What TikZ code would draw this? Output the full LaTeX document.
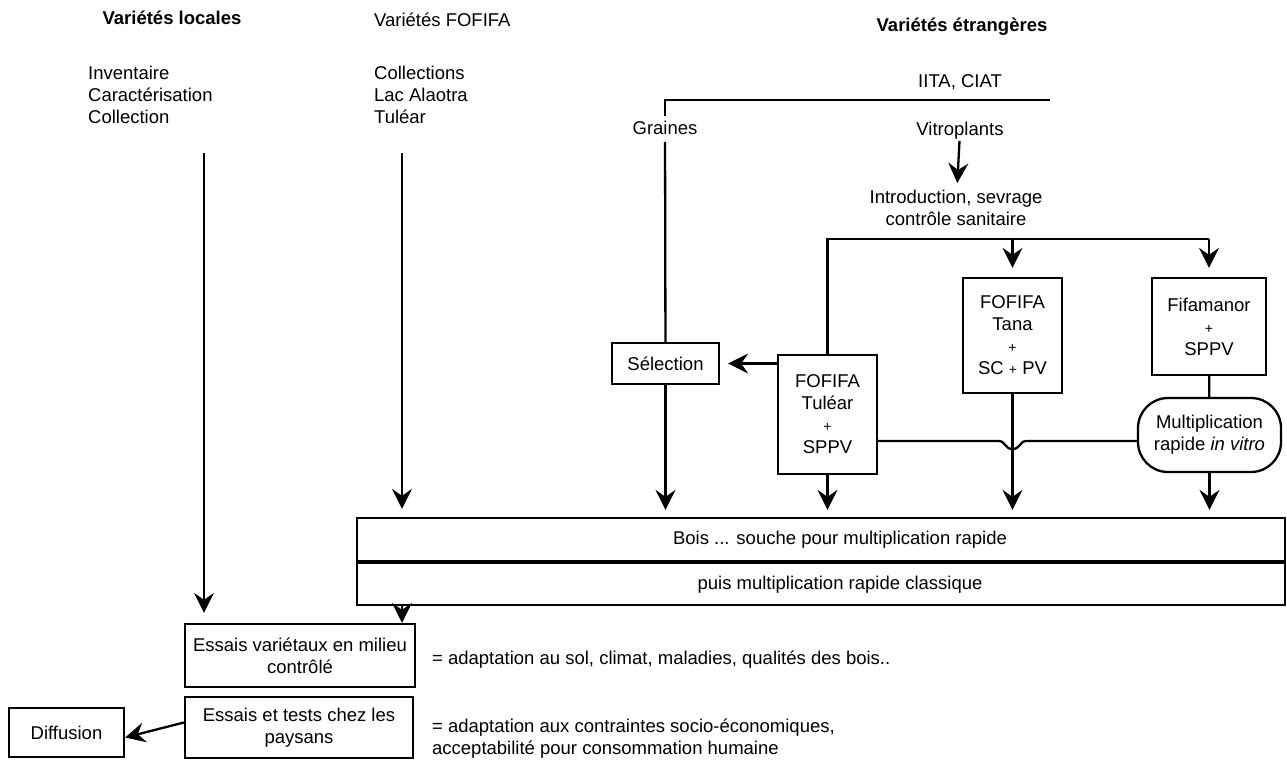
\documentclass[tikz,border=0pt]{standalone}
\usepackage{fontspec}
\setmainfont{Liberation Sans}
\usetikzlibrary{arrows.meta}
\tikzstyle{every node}=[inner sep=0pt, align=center]
\tikzstyle{box}=[draw, line width=2.3pt]
\tikzstyle{arr}=[-{Stealth[length=20pt, width=20pt, inset=7pt]}]
\newcommand{\pl}{{\fontsize{14}{14}\selectfont +}}

\begin{document}
\begin{tikzpicture}[x=1pt, y=-1pt, font=\fontsize{18.5}{22}\selectfont, line width=2.3pt]
	\useasboundingbox (0,0) rectangle (1287,764);
	%titles
	\node[font=\fontsize{18.5}{22}\selectfont\bfseries] (loctitle) at (172,18) {Variétés locales};
	\node[anchor=west] (foftitle) at (373,20) {Variétés FOFIFA};
	\node[font=\fontsize{18.5}{22}\selectfont\bfseries] (etrtitle) at (962,27) {Variétés étrangères};
	%lists
	\node[anchor=north west, align=left] (loclist) at (87,65) {Inventaire\\Caractérisation\\Collection};
	\node[anchor=north west, align=left] (foflist) at (373,65) {Collections\\Lac Alaotra\\Tuléar};
	\coordinate (locstart) at (204,153);
	\coordinate (fofstart) at (402,153);
	%foreign varieties
	\node (iita) at (960,82) {IITA, CIAT};
	\coordinate (iitaend) at (1050,100);
	\node (graines) at (665,128) {Graines};
	\node (vitro) at (960,131) {Vitroplants};
	\node (intro) at (956,208) {Introduction, sevrage\\contrôle sanitaire};
	%boxes
	\node[box, minimum width=107, minimum height=41] (selection) at (665.5,363.5) {Sélection};
	\node[box, minimum width=99, minimum height=119] (tulear) at (827.5,414.5) {FOFIFA\\Tuléar\\\pl\\SPPV};
	\node[box, minimum width=99, minimum height=115] (tana) at (1012.5,335.5) {FOFIFA\\Tana\\\pl\\SC \pl\ PV};
	\node[box, minimum width=114, minimum height=97] (fifa) at (1209,326.5) {Fifamanor\\\pl\\SPPV};
	\node[box, rounded corners=30pt, minimum width=143, minimum height=74] (multi) at (1209.5,435) {Multiplication\\rapide \textit{in vitro}};
	\node[box, minimum width=928, minimum height=43] (bois) at (821,539.5) {};
	\node[box, minimum width=928, minimum height=42, anchor=north] (puis) at (bois.south) {};
	\node (boistext) at ([xshift=19pt]bois.center) {Bois ... souche pour multiplication rapide};
	\node (puistext) at ([xshift=19pt]puis.center) {puis multiplication rapide classique};
	\node[box, minimum width=230, minimum height=63] (essais) at (300,655.5) {Essais variétaux en milieu\\contrôlé};
	\node[box, minimum width=228, minimum height=61] (paysans) at (299,727.5) {Essais et tests chez les\\paysans};
	\node[box, minimum width=115, minimum height=49] (diffusion) at (66.5,732.5) {Diffusion};
	\node[anchor=west] (adapt1) at (431,660) {= adaptation au sol, climat, maladies, qualités des bois..};
	\node[anchor=north west, align=left] (adapt2) at (431,718) {= adaptation aux contraintes socio-économiques,\\acceptabilité pour consommation humaine};
	%connections
	\draw[arr, shorten >=10pt] (locstart) -- (locstart |- essais.north);
	\draw[arr, shorten >=8pt] (fofstart) -- (fofstart |- bois.north);
	\draw[shorten >=4pt] (iitaend) -| (graines);
	\draw[shorten <=6pt] (graines) -- (selection);
	\draw[arr, shorten >=6pt] (vitro) -- (intro);
	\coordinate (split) at (tulear.north |- 0,239);
	\draw (tulear) -- (split) -- (split -| fifa);
	\draw[arr, shorten >=9pt] (split -| tana) -- (tana);
	\draw[arr, shorten >=9pt] (split -| fifa) -- (fifa);
	\draw[arr, shorten >=8pt] (tulear.west |- selection) -- (selection);
	\draw (fifa) -- (multi);
	\coordinate (hop) at (tana.south |- 0,441);
	\draw (tulear.east |- hop) -- ([xshift=-14pt]hop)
		.. controls ([xshift=-7pt]hop) and ([xshift=-8pt, yshift=-8pt]hop) .. ([yshift=-8pt]hop)
		.. controls ([xshift=8pt, yshift=-8pt]hop) and ([xshift=7pt]hop) .. ([xshift=14pt]hop)
		-- (multi.west |- hop);
	\foreach \src in {selection, tulear, tana, multi}
	\draw[arr, shorten >=7pt] (\src) -- (\src |- bois.north);
	\draw[arr] (puis.south -| fofstart) -- (essais.north -| fofstart);
	\draw[arr] ([yshift=5pt]paysans.west) -- ([yshift=-5pt]diffusion.east);
\end{tikzpicture}
\end{document}
